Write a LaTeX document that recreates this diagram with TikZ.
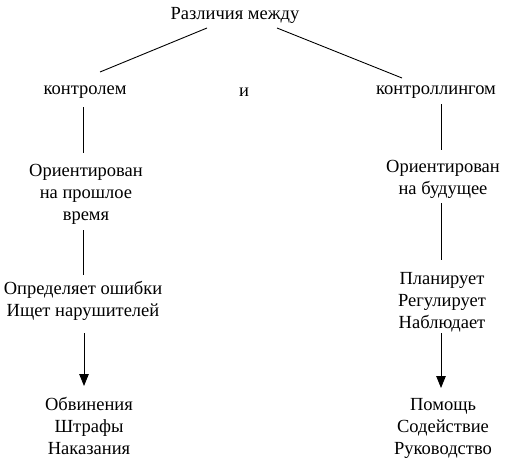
\documentclass[tikz,border=0pt]{standalone}
\usepackage{fontspec}
\setmainfont{Liberation Serif}
\newfontfamily\diagserif{Liberation Serif}
\usetikzlibrary{arrows.meta}
\begin{document}
\begin{tikzpicture}[x=1pt,y=-1pt,
  lbl/.style={align=center,inner sep=0pt,font=\diagserif\fontsize{18.5}{22}\selectfont},
  conn/.style={line width=0.9pt},
  arr/.style={line width=0.9pt,-{Triangle[length=12pt,width=9.5pt]}}]
\useasboundingbox (0,0) rectangle (518,468);
\node[lbl] (top) at (235,15) {Различия между};
\node[lbl] (ctrl) at (85,92) {контролем};
\node[lbl] (and) at (244,92) {и};
\node[lbl] (ctrlg) at (436,92) {контроллингом};
\node[lbl] (past) at (86,194) {Ориентирован\\на прошлое\\время};
\node[lbl] (fut) at (443,179) {Ориентирован\\на будущее};
\node[lbl] (err) at (83,301) {Определяет ошибки\\Ищет нарушителей};
\node[lbl] (plan) at (442,302) {Планирует\\Регулирует\\Наблюдает};
\node[lbl] (res1) at (89,426) {Обвинения\\Штрафы\\Наказания};
\node[lbl] (res2) at (443,428) {Помощь\\Содействие\\Руководство};
\draw[conn] ([shift={(-28,13)}]top.center) -- ([shift={(15,-20)}]ctrl.center);
\draw[conn] ([shift={(42,13)}]top.center) -- ([shift={(-34,-14)}]ctrlg.center);
\draw[conn] ([shift={(-2,15)}]ctrl.center) -- ([shift={(-3,-41)}]past.center);
\draw[conn] ([shift={(-3,36)}]past.center) -- ([shift={(0,-26)}]err.center);
\draw[arr] ([shift={(1,32)}]err.center) -- ([shift={(-5,-40)}]res1.center);
\draw[conn] ([shift={(5,12)}]ctrlg.center) -- ([shift={(-2,-29)}]fut.center);
\draw[conn] ([shift={(-2,24)}]fut.center) -- ([shift={(-1,-42)}]plan.center);
\draw[arr] ([shift={(-1,31)}]plan.center) -- ([shift={(-2,-40)}]res2.center);
\end{tikzpicture}
\end{document}
